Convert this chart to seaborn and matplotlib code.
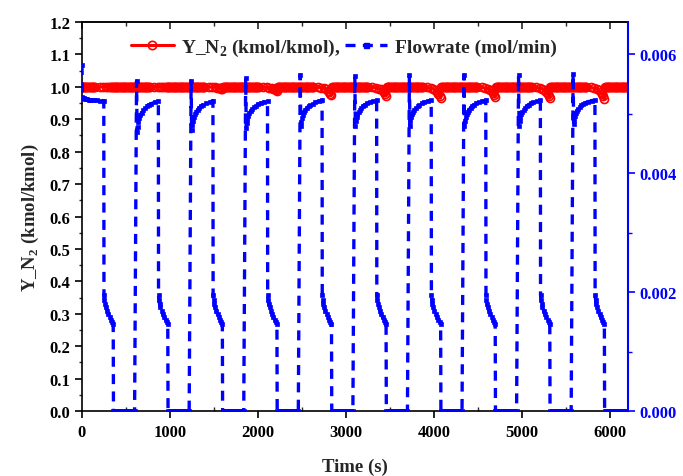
import numpy as np
import pandas as pd
import matplotlib
matplotlib.use("Agg")
import matplotlib.pyplot as plt
import seaborn as sns
from matplotlib.lines import Line2D
from matplotlib.ticker import MultipleLocator, FormatStrFormatter

# ---------------- data ----------------
cycle_start = [0, 620, 1240, 1860, 2480, 3100, 3720, 4340, 4960, 5580]   # s
t_end = 6200

# Flowrate (mol/min), per cycle
flow_spike   = [0.00582, 0.00555, 0.00555, 0.00560, 0.00565, 0.00563, 0.00565, 0.00565, 0.00565, 0.00567]
flow_dip     = [0.00528, 0.00469, 0.00472, 0.00476, 0.00479, 0.00480, 0.00480, 0.00480, 0.00480, 0.00482]
flow_plateau = [0.00522, 0.00522, 0.00522, 0.00522, 0.00523, 0.00523, 0.00523, 0.00523, 0.00523, 0.00524]
# recovery shape inside a cycle (offset s, fraction dip->plateau)
rec_off  = [6, 12, 20, 30, 42, 57, 75, 95, 114, 140, 170, 210, 248]
rec_frac = [0, 0.18, 0.32, 0.44, 0.54, 0.62, 0.70, 0.77, 0.82, 0.87, 0.91, 0.95, 1.0]
# low-flow step inside a cycle (offset s, mol/min)
step_off = [250, 256, 262, 272, 285, 300, 315, 330, 343, 355]
step_val = [0.00195, 0.00187, 0.00180, 0.00175, 0.00169, 0.00163, 0.00158, 0.00154, 0.00150, 0.00147]
zero_from = 358   # s after cycle start, flow = 0 until next cycle

# Y_N2 (kmol/kmol), per cycle minimum at end of the step
yn2_min = [0.999, 0.998, 0.992, 0.986, 0.974, 0.972, 0.965, 0.968, 0.965, 0.963]
yn2_off  = [150, 200, 240, 270, 295, 315, 330, 343, 355]
yn2_frac = [0, 0.05, 0.12, 0.20, 0.30, 0.45, 0.60, 0.80, 1.0]
yn2_back = 362

# ---------------- assemble series ----------------
ft, fv = [], []
for k, t0 in enumerate(cycle_start):
    ft.append(t0); fv.append(flow_spike[k])
    for o, f in zip(rec_off, rec_frac):
        ft.append(t0 + o); fv.append(flow_dip[k] + f * (flow_plateau[k] - flow_dip[k]))
    for o, v in zip(step_off, step_val):
        ft.append(t0 + o); fv.append(v)
    nxt = cycle_start[k + 1] - 4 if k + 1 < len(cycle_start) else t_end
    for t in np.arange(t0 + zero_from, nxt + 1, 20):
        ft.append(t); fv.append(0.0)
flow = pd.DataFrame({"t": ft, "v": fv})

rt, rv = [], []
prev = 0
for k, t0 in enumerate(cycle_start):
    for t in np.arange(prev, t0 + yn2_off[0], 10):
        rt.append(t); rv.append(1.0)
    for o, f in zip(yn2_off, yn2_frac):
        rt.append(t0 + o); rv.append(1.0 - f * (1.0 - yn2_min[k]))
    prev = t0 + yn2_back
for t in np.arange(prev, t_end + 1, 10):
    rt.append(t); rv.append(1.0)
yn2 = pd.DataFrame({"t": rt, "v": rv})

# ---------------- plot ----------------
sns.set_theme(style="ticks")
plt.rcParams["font.family"] = ["Liberation Serif", "DejaVu Serif"]
plt.rcParams["font.weight"] = "bold"
plt.rcParams["axes.labelweight"] = "bold"
plt.rcParams["mathtext.fontset"] = "custom"
plt.rcParams["mathtext.rm"] = "Liberation Serif:bold"
plt.rcParams["mathtext.bf"] = "Liberation Serif:bold"

RED = "#ff0000"
BLUE = "#0000ff"
DASH = (0, (3.0, 2.2))

fig = plt.figure(figsize=(6.83, 4.77), dpi=100)
ax1 = fig.add_axes([0.12, 0.136, 0.799, 0.816])
ax2 = ax1.twinx()

sns.lineplot(data=yn2, x="t", y="v", ax=ax1, sort=False, estimator=None,
             color=RED, lw=2.2, marker="o", markersize=5.8, markerfacecolor="none",
             markeredgecolor=RED, markeredgewidth=1.2, zorder=2)
sns.lineplot(data=flow, x="t", y="v", ax=ax2, sort=False, estimator=None,
             color=BLUE, lw=2.4, linestyle=DASH, marker="s", markersize=3.4,
             markerfacecolor=BLUE, markeredgecolor=BLUE, markeredgewidth=0.5, zorder=3)

ax1.set_xlim(0, 6200)
ax1.set_ylim(0, 1.2)
ax2.set_ylim(0, 0.006545)

ax1.xaxis.set_major_locator(MultipleLocator(1000))
ax1.xaxis.set_minor_locator(MultipleLocator(500))
ax1.yaxis.set_major_locator(MultipleLocator(0.1))
ax1.yaxis.set_minor_locator(MultipleLocator(0.05))
ax1.yaxis.set_major_formatter(FormatStrFormatter("%.1f"))
ax2.yaxis.set_major_locator(MultipleLocator(0.002))
ax2.yaxis.set_minor_locator(MultipleLocator(0.001))
ax2.yaxis.set_major_formatter(FormatStrFormatter("%.3f"))

ax1.tick_params(axis="both", which="major", labelsize=12, width=1.2, length=5,
                direction="out", color="black", labelcolor="black")
ax1.tick_params(axis="y", which="minor", width=1.0, length=2.5, direction="out")
ax1.tick_params(axis="x", which="minor", width=1.0, length=3, direction="in")
ax1.tick_params(axis="x", pad=4)
ax2.tick_params(axis="y", which="major", labelsize=12, width=1.2, length=5,
                direction="out", color=BLUE, labelcolor=BLUE)
ax2.tick_params(axis="y", which="minor", width=1.0, length=3, direction="out", color=BLUE)

top = ax1.secondary_xaxis("top")
top.xaxis.set_major_locator(MultipleLocator(1000))
top.xaxis.set_minor_locator(MultipleLocator(500))
top.tick_params(which="major", direction="in", length=5, width=1.2, labeltop=False)
top.tick_params(which="minor", direction="in", length=3, width=1.0)
top.spines["top"].set_linewidth(1.2)

for s in ["left", "bottom", "top"]:
    ax1.spines[s].set_linewidth(1.2)
    ax1.spines[s].set_color("black")
ax1.spines["right"].set_visible(False)
ax2.spines["left"].set_visible(False)
ax2.spines["bottom"].set_visible(False)
ax2.spines["top"].set_visible(False)
ax2.spines["right"].set_color(BLUE)
ax2.spines["right"].set_linewidth(1.5)

ax1.set_xlabel("Time (s)", fontsize=13.5, labelpad=13)
ax1.set_ylabel("Y_N$_2$ (kmol/kmol)", fontsize=13.5, labelpad=6)
ax2.set_ylabel("")

handles = [
    Line2D([], [], color=RED, lw=2.2, marker="o", markersize=6, markerfacecolor="none",
           markeredgecolor=RED, markeredgewidth=1.2),
    Line2D([], [], color=BLUE, lw=2.4, linestyle=DASH, marker="s",
           markersize=3.6, markerfacecolor=BLUE, markeredgecolor=BLUE),
]
labels = ["Y_N$_2$ (kmol/kmol),", "Flowrate (mol/min)"]
leg = ax2.legend(handles, labels, loc="center", bbox_to_anchor=(0.48, 0.935), ncol=2,
                 frameon=False, fontsize=14, handlelength=2.2, columnspacing=0.2,
                 handletextpad=0.4, numpoints=1)

fig.savefig("out.png", dpi=100)
